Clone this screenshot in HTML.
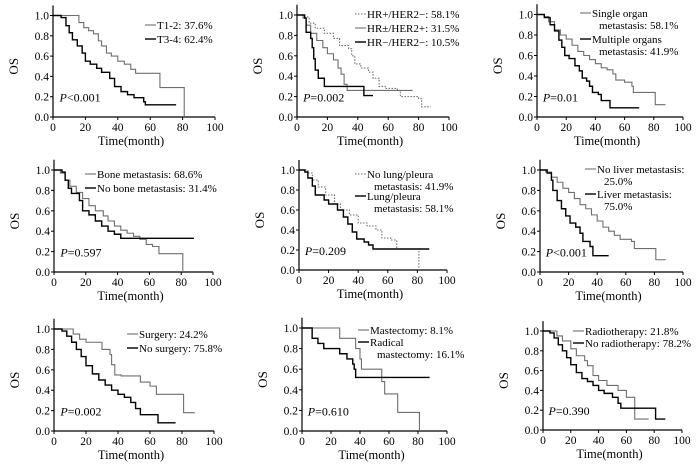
<!DOCTYPE html>
<html><head><meta charset="utf-8"><style>
html,body{margin:0;padding:0;background:#fff;}
svg text{font-family:"Liberation Serif","Times New Roman",serif;fill:#000;}
</style></head><body>
<svg id="fig" width="700" height="470" viewBox="0 0 700 470" xmlns="http://www.w3.org/2000/svg" font-family="Liberation Serif, serif"></svg>
<script>
// x-axis tick labels and y-axis tick labels
const xTicks = [0,20,40,60,80,100];
const yTicks = [0,0.2,0.4,0.6,0.8,1.0];
// Survival step curves: [time, survival]
const p1_t12 = [[0,1],[14,1],[16,.93],[19,.88],[22,.85],[25,.82],[28,.75],[30,.70],[33,.63],[36,.60],[40,.55],[44,.52],[48,.47],[51,.43],[64,.43],[66,.29],[81,.29],[81,0]];
const p1_t34 = [[0,1],[5,.98],[8,.9],[10,.83],[12,.76],[15,.7],[18,.63],[20,.55],[23,.52],[27,.48],[30,.44],[35,.38],[38,.3],[42,.25],[46,.22],[50,.19],[56,.15],[57,.12],[76,.12]];
const p2_hrpos = [[0,1],[5,.98],[8,.92],[12,.87],[18,.82],[24,.77],[28,.7],[34,.67],[36,.6],[38,.52],[42,.48],[47,.44],[50,.38],[54,.3],[58,.28],[66,.26],[68,.2],[80,.18],[82,.1],[88,.1]];
const p2_her2 = [[0,1],[4,.97],[6,.9],[9,.82],[13,.75],[17,.68],[20,.62],[24,.56],[27,.48],[29,.42],[31,.32],[33,.26],[76,.26]];
const p2_tn = [[0,1],[5,.97],[6,.83],[9,.77],[10,.68],[11,.57],[12,.46],[14,.38],[18,.30],[44,.30],[44,.21],[50,.21]];
const p3_single = [[0,1],[5,.98],[8,.93],[12,.85],[16,.8],[20,.76],[24,.7],[28,.64],[32,.6],[36,.56],[40,.52],[44,.48],[48,.46],[52,.42],[54,.36],[60,.34],[65,.3],[66,.24],[81,.24],[81,.12],[88,.12]];
const p3_multi = [[0,1],[5,.97],[9,.9],[12,.84],[15,.75],[17,.68],[19,.6],[22,.57],[26,.5],[29,.45],[31,.38],[34,.35],[36,.3],[38,.24],[42,.22],[44,.16],[49,.16],[50,.09],[70,.09]];
const p4_bone = [[0,1],[4,.97],[7,.9],[10,.84],[14,.78],[18,.72],[22,.65],[26,.6],[31,.55],[34,.5],[38,.45],[42,.41],[46,.38],[50,.35],[54,.32],[58,.27],[62,.25],[66,.18],[81,.18],[81,0]];
const p4_nobone = [[0,1],[5,.98],[7,.9],[9,.82],[11,.77],[16,.7],[18,.6],[22,.56],[26,.5],[30,.45],[34,.4],[38,.37],[42,.33],[88,.33]];
const p5_nolung = [[0,1],[6,.97],[9,.9],[13,.83],[18,.75],[24,.66],[28,.6],[34,.55],[40,.47],[46,.44],[52,.4],[56,.32],[62,.3],[66,.21],[81,.21],[81,0]];
const p5_lung = [[0,1],[4,.98],[6,.92],[9,.84],[11,.75],[17,.7],[20,.66],[26,.6],[30,.53],[33,.46],[36,.38],[39,.31],[44,.28],[47,.25],[50,.21],[88,.21]];
const p6_noliver = [[0,1],[4,.98],[8,.93],[12,.88],[16,.82],[20,.78],[24,.72],[28,.66],[32,.62],[36,.56],[40,.5],[44,.44],[48,.4],[52,.36],[56,.32],[64,.3],[66,.23],[81,.23],[81,.12],[88,.12]];
const p6_liver = [[0,1],[5,.97],[8,.9],[9,.8],[12,.7],[15,.62],[18,.55],[21,.48],[25,.44],[28,.38],[30,.3],[35,.25],[37,.16],[48,.16]];
const p7_surg = [[0,1],[8,1],[12,.95],[16,.9],[20,.87],[30,.8],[35,.75],[36,.65],[38,.55],[42,.54],[52,.54],[54,.48],[60,.44],[64,.36],[81,.36],[81,.18],[88,.18]];
const p7_nosurg = [[0,1],[5,.98],[8,.93],[11,.87],[14,.8],[17,.73],[20,.64],[24,.56],[28,.5],[32,.45],[36,.4],[40,.36],[44,.33],[48,.28],[51,.22],[54,.16],[65,.16],[65,.08],[76,.08]];
const p8_mast = [[0,1],[26,1],[26,.9],[36,.9],[37,.8],[40,.7],[41,.6],[54,.6],[55,.48],[57,.36],[66,.36],[66,.18],[81,.18],[81,0]];
const p8_radical = [[0,1],[7,1],[7,.9],[11,.85],[15,.8],[26,.75],[31,.7],[35,.65],[36,.6],[37,.52],[88,.52]];
const p9_radio = [[0,1],[6,1],[10,.95],[14,.9],[20,.82],[24,.75],[30,.7],[32,.65],[36,.55],[40,.5],[46,.45],[54,.4],[60,.33],[65,.33],[66,.11],[76,.11]];
const p9_noradio = [[0,1],[5,.98],[8,.93],[11,.86],[14,.8],[17,.73],[20,.66],[24,.58],[28,.52],[32,.49],[36,.45],[40,.4],[44,.37],[50,.33],[54,.27],[56,.22],[81,.22],[81,.11],[88,.11]];
const pValues = ["<0.001","=0.002","=0.01","=0.597","=0.209","<0.001","=0.002","=0.610","=0.390"];

const NS = "http://www.w3.org/2000/svg";
const svg = document.getElementById('fig');
function mk(tag, attrs, parent){const e=document.createElementNS(NS,tag);for(const k in attrs)e.setAttribute(k,attrs[k]);(parent||svg).appendChild(e);return e;}

const GREY="#6e6e6e";
const panels = [
 {x0:53,x1:215,y1:15.5,y0:117,curves:[[p1_t12,GREY,''],[p1_t34,'#000','']],
  leg:[{lx:145,ly:25,c:GREY,d:'',t:['T1-2: 37.6%']},{lx:145,ly:39,c:'#000',d:'',t:['T3-4: 62.4%']}]},
 {x0:297,x1:449,y1:15,y0:117,curves:[[p2_hrpos,GREY,'1.5,1.5'],[p2_her2,GREY,''],[p2_tn,'#000','']],
  leg:[{lx:355,ly:14,c:GREY,d:'1.5,1.5',t:['HR+/HER2−: 58.1%']},{lx:355,ly:28,c:GREY,d:'',t:['HR±/HER2+: 31.5%']},{lx:355,ly:42,c:'#000',d:'',t:['HR−/HER2−: 10.5%']}]},
 {x0:537,x1:683,y1:14.5,y0:117,curves:[[p3_single,GREY,''],[p3_multi,'#000','']],
  leg:[{lx:580,ly:13,c:GREY,d:'',t:['Single organ','metastasis: 58.1%']},{lx:580,ly:39,c:'#000',d:'',t:['Multiple organs','metastasis: 41.9%']}]},
 {x0:54,x1:213,y1:170,y0:272,curves:[[p4_bone,GREY,''],[p4_nobone,'#000','']],
  leg:[{lx:85,ly:174,c:GREY,d:'',t:['Bone metastasis: 68.6%']},{lx:85,ly:188,c:'#000',d:'',t:['No bone metastasis: 31.4%']}]},
 {x0:299,x1:447,y1:170,y0:270,curves:[[p5_nolung,GREY,'1.5,1.5'],[p5_lung,'#000','']],
  leg:[{lx:355,ly:174,c:GREY,d:'1.5,1.5',t:['No lung/pleura','metastasis: 41.9%']},{lx:355,ly:196,c:'#000',d:'',t:['Lung/pleura','metastasis: 58.1%']}]},
 {x0:540,x1:683,y1:170,y0:272,curves:[[p6_noliver,GREY,''],[p6_liver,'#000','']],
  leg:[{lx:585,ly:169,c:GREY,d:'',t:['No liver metastasis:','25.0%']},{lx:585,ly:194,c:'#000',d:'',t:['Liver metastasis:','75.0%']}]},
 {x0:54,x1:214,y1:329,y0:431,curves:[[p7_surg,GREY,''],[p7_nosurg,'#000','']],
  leg:[{lx:127,ly:334,c:GREY,d:'',t:['Surgery: 24.2%']},{lx:127,ly:348,c:'#000',d:'',t:['No surgery: 75.8%']}]},
 {x0:302,x1:447,y1:328,y0:431,curves:[[p8_mast,GREY,''],[p8_radical,'#000','']],
  leg:[{lx:358,ly:330,c:GREY,d:'',t:['Mastectomy: 8.1%']},{lx:358,ly:342,c:'#000',d:'',t:['Radical','mastectomy: 16.1%']}]},
 {x0:543,x1:682,y1:331,y0:430,curves:[[p9_radio,GREY,''],[p9_noradio,'#000','']],
  leg:[{lx:573,ly:331,c:GREY,d:'',t:['Radiotherapy: 21.8%']},{lx:573,ly:343,c:'#000',d:'',t:['No radiotherapy: 78.2%']}]}
];

panels.forEach((p,i)=>{
  const g = mk('g',{});
  
  
  const sx = t => p.x0 + (p.x1-p.x0)*t/100;
  const sy = s => p.y0 - (p.y0-p.y1)*s;
  const ax = mk('path',{d:`M${p.x0},${sy(1.1)}V${p.y0}H${p.x1}`,fill:'none',stroke:'#000','stroke-width':1.2},g);
  
  
  yTicks.forEach(v=>{
    mk('line',{x1:p.x0-3,x2:p.x0,y1:sy(v),y2:sy(v),stroke:'#000'},g);
    const t = mk('text',{x:p.x0-4,y:sy(v)+4,'font-size':11.5,'text-anchor':'end','font-family':'Liberation Serif, serif'},g);
    t.textContent = v.toFixed(1);
    
    
  });
  xTicks.forEach(v=>{
    mk('line',{x1:sx(v),x2:sx(v),y1:p.y0,y2:p.y0+3,stroke:'#000'},g);
    const t = mk('text',{x:sx(v),y:p.y0+14,'font-size':11.5,'text-anchor':'middle','font-family':'Liberation Serif, serif'},g);
    t.textContent = v;
    
    
  });
  const xt = mk('text',{x:sx(50)-3,y:p.y0+28,'font-size':12.5,'text-anchor':'middle','font-family':'Liberation Serif, serif'},g);
  xt.textContent='Time(month)';
  
  
  const yx = p.x0-35, yy=(p.y0+p.y1)/2;
  const yt = mk('text',{x:yx,y:yy,'font-size':13,'text-anchor':'middle','font-family':'Liberation Serif, serif',transform:`rotate(-90 ${yx} ${yy})`},g);
  yt.textContent='OS';
  
  
  const pv = mk('text',{x:sx(4),y:sy(0.2)+5,'font-size':12,'font-family':'Liberation Serif, serif'},g);
  pv.innerHTML = '<tspan font-style="italic">P</tspan>'+pValues[i].replace('<','&lt;');
  
  
  p.curves.forEach(([data,col,dash],k)=>{
    let d = `M${sx(data[0][0])},${sy(data[0][1])}`;
    for(let j=1;j<data.length;j++){
      d += `H${sx(data[j][0])}V${sy(data[j][1])}`;
    }
    const attrs={d:d,fill:'none',stroke:col,'stroke-width':col==='#000'?1.4:1.1};
    if(dash) attrs['stroke-dasharray']=dash;
    const c = mk('path',attrs,g);
    
    
  });
  p.leg.forEach((L,k)=>{
    const a={x1:L.lx,x2:L.lx+11,y1:L.ly,y2:L.ly,stroke:L.c,'stroke-width':L.c==='#000'?1.4:1.1};
    if(L.d) a['stroke-dasharray']=L.d;
    const ln = mk('line',a,g);
    
    
    L.t.forEach((s,m)=>{
      const tx = mk('text',{x:L.lx+12+(m?7:0),y:L.ly+4+m*12,'font-size':11,'font-family':'Liberation Serif, serif'},g);
      tx.textContent=s;
      
      
    });
  });
});
</script>
</body></html>
